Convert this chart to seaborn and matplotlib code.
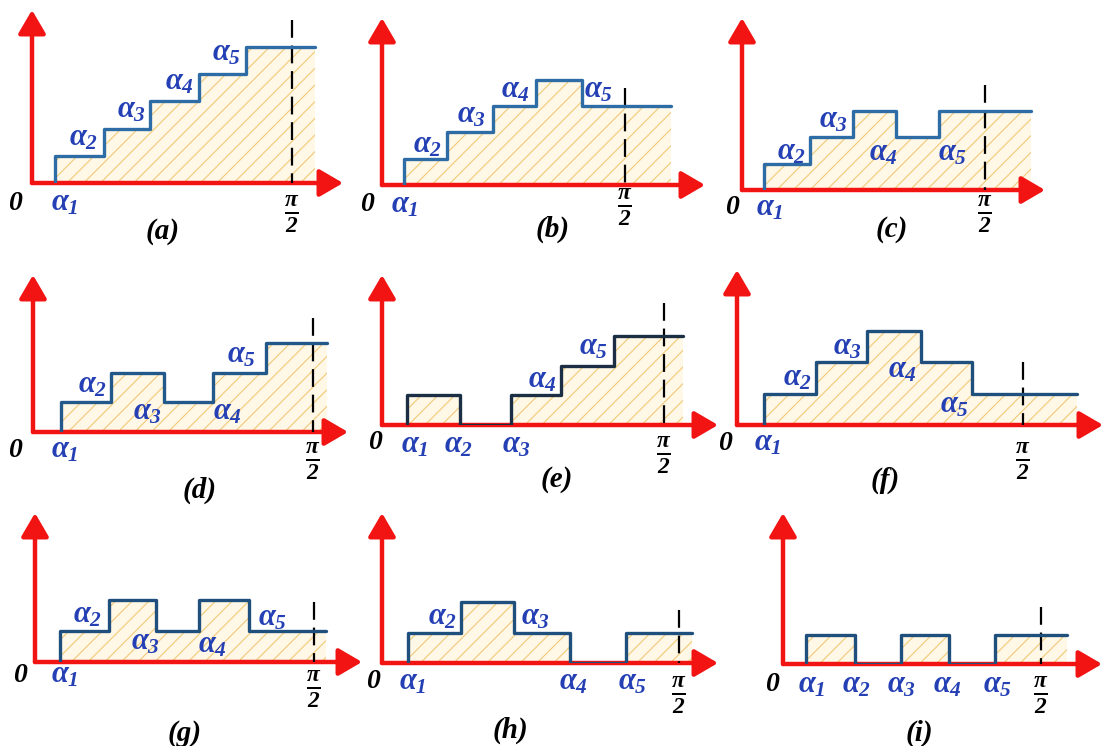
import pandas as pd
import matplotlib
matplotlib.use("Agg")
import matplotlib.pyplot as plt
import seaborn as sns

# Panel ids and step data (switching angles in degrees, pi/2 = 90)
panels = ['a', 'b', 'c', 'd', 'e', 'f', 'g', 'h', 'i']
alphas = [
    [8, 25, 41, 58, 74],
    [8, 24, 41, 57, 74],
    [8, 25, 41, 57, 73],
    [9, 25, 42, 58, 75],
    [8, 25, 41, 57, 74],
    [8.5, 25, 41, 58, 74],
    [8, 24, 39, 53, 69],
    [8, 24, 40, 57, 74],
    [8, 25, 41, 58, 74],
]
levels = [
    [1, 2, 3, 4, 5],
    [1, 2, 3, 4, 3],
    [1, 2, 3, 2, 3],
    [1, 2, 1, 2, 3],
    [1, 0, 1, 2, 3],
    [1, 2, 3, 2, 1],
    [1, 2, 1, 2, 1],
    [1, 2, 1, 0, 1],
    [1, 0, 1, 0, 1],
]
end_angle = [98, 107, 107, 94.5, 96, 107, 94, 94, 99]
dash_top = [6.0, 3.7, 4.0, 3.84, 4.1, 2.0, 1.94, 1.74, 1.97]

# layout (pixels of axis origin and arrow tips) and axis ranges
origin_px = [(32, 183), (382, 185), (742, 190), (33, 432), (382, 425),
             (737, 425), (35, 662), (382, 663), (783, 664)]
tip_px = [(343, 10), (705, 18), (1045, 18), (348, 275), (718, 275),
          (1103, 270), (362, 513), (718, 513), (1102, 513)]
x_max = [107.7, 119.6, 112.2, 101.3, 107.2, 115.2, 105.5, 101.8, 111.3]
y_max = [6.36, 6.35, 6.54, 5.29, 5.05, 4.95, 4.8, 4.92, 5.2]

# label placement
alpha_label_xy = [
    [(11.4, -0.74), (17.7, 1.65), (34.6, 2.68), (51.2, 3.71), (67.5, 4.78)],
    [(8.5, -0.76), (17.0, 1.52), (33.3, 2.66), (49.3, 3.61), (80.0, 3.61)],
    [(10.4, -0.68), (18.5, 1.44), (33.7, 2.66), (52.2, 1.41), (78.1, 1.41)],
    [(10.3, -0.61), (19.3, 1.58), (36.7, 0.67), (62.4, 0.67), (67.2, 2.59)],
    [(10.5, -0.67), (24.3, -0.67), (42.8, -0.67), (51.1, 1.52), (67.4, 2.63)],
    [(9.7, -0.58), (18.9, 1.5), (34.9, 2.49), (52.2, 1.76), (68.6, 0.64)],
    [(9.7, -0.42), (17.1, 1.52), (35.5, 0.65), (57.1, 0.55), (76.5, 1.42)],
    [(9.4, -0.62), (18.2, 1.51), (46.4, 1.51), (57.9, -0.62), (75.8, -0.62)],
    [(10.1, -0.72), (25.8, -0.72), (41.5, -0.72), (57.5, -0.72), (74.9, -0.72)],
]
zero_xy = [(-5.9, -0.74), (-5.6, -0.76), (-3.7, -0.68), (-5.8, -0.61), (-2.2, -0.6),
           (-3.8, -0.58), (-4.8, -0.42), (-2.7, -0.62), (-3.8, -0.72)]
pi_label_y = [-1.14, -0.84, -0.95, -1.0, -1.04, -1.18, -0.9, -1.05, -1.1]
caption_xy = [(45.3, -1.8), (63, -1.7), (55.6, -1.52), (53.7, -1.95), (55.9, -1.85),
              (46.5, -1.76), (48.4, -2.3), (38.8, -2.2), (47.7, -2.38)]
line_colors = ['#2E6CA6', '#2E6CA6', '#2E6CA6', '#22588A', '#1C2E44',
               '#1F4F7C', '#1F4F7C', '#1F4F7C', '#1F4F7C']

sns.set_style("white")
plt.rcParams['font.family'] = ['Liberation Serif', 'DejaVu Serif']
plt.rcParams['text.color'] = 'black'
plt.rcParams['mathtext.fontset'] = 'custom'
plt.rcParams['mathtext.rm'] = 'Liberation Serif:bold:italic'
plt.rcParams['mathtext.it'] = 'Liberation Serif:bold:italic'
plt.rcParams['mathtext.bf'] = 'Liberation Serif:bold:italic'
plt.rcParams['hatch.linewidth'] = 0.8
plt.rcParams['hatch.color'] = '#F2C878'

W, H = 1105, 746
fig = plt.figure(figsize=(W / 100, H / 100), dpi=100)

red = '#F21313'
label_blue = '#2440B4'

for i, p in enumerate(panels):
    ox, oy = origin_px[i]
    tx, ty = tip_px[i]
    ax = fig.add_axes([ox / W, 1 - oy / H, (tx - ox) / W, (oy - ty) / H])

    xs = [alphas[i][0]] + alphas[i] + [end_angle[i]]
    ys = [0] + levels[i] + [levels[i][-1]]
    df = pd.DataFrame({'angle': xs, 'level': ys})

    # hatched area under the staircase
    ax.fill_between(df['angle'], 0, df['level'], step='post', facecolor='#FFF8E6',
                    edgecolor='#F2C878', hatch='//', linewidth=0, zorder=1)
    sns.lineplot(data=df, x='angle', y='level', ax=ax, estimator=None, sort=False,
                 drawstyle='steps-post', color=line_colors[i], lw=2.4,
                 legend=False, zorder=4)

    # pi/2 dashed marker (drawn top-down so it starts with a full dash)
    ax.plot([90, 90], [dash_top[i], 0], color='black', lw=1.6,
            linestyle=(0, (8, 3.5)), zorder=3)

    # red axes with arrows
    arrow = dict(arrowstyle='-|>,head_length=0.65,head_width=0.38', color=red,
                 lw=3.2, mutation_scale=22, shrinkA=0, shrinkB=0)
    ax.annotate('', xy=(1, 0), xytext=(0, 0), xycoords='axes fraction',
                arrowprops=arrow, zorder=2)
    ax.annotate('', xy=(0, 1), xytext=(0, 0), xycoords='axes fraction',
                arrowprops=arrow, zorder=2)

    ax.set_xlim(0, x_max[i])
    ax.set_ylim(0, y_max[i])
    ax.set_axis_off()

    for k, (lx, ly) in enumerate(alpha_label_xy[i]):
        ax.text(lx, ly, r'$\alpha_{%d}$' % (k + 1), color=label_blue, fontsize=22,
                ha='center', va='center', zorder=5)
    ax.text(zero_xy[i][0], zero_xy[i][1], '0', fontsize=20, fontweight='bold',
            fontstyle='italic', color='black', ha='center', va='center')
    ax.text(90, pi_label_y[i], r'$\frac{\pi}{2}$', fontsize=24, color='black',
            ha='center', va='center')
    ax.text(caption_xy[i][0], caption_xy[i][1], '(%s)' % p, fontsize=21,
            fontweight='bold', fontstyle='italic', color='black',
            ha='center', va='center')

fig.savefig("out.png", dpi=100)
